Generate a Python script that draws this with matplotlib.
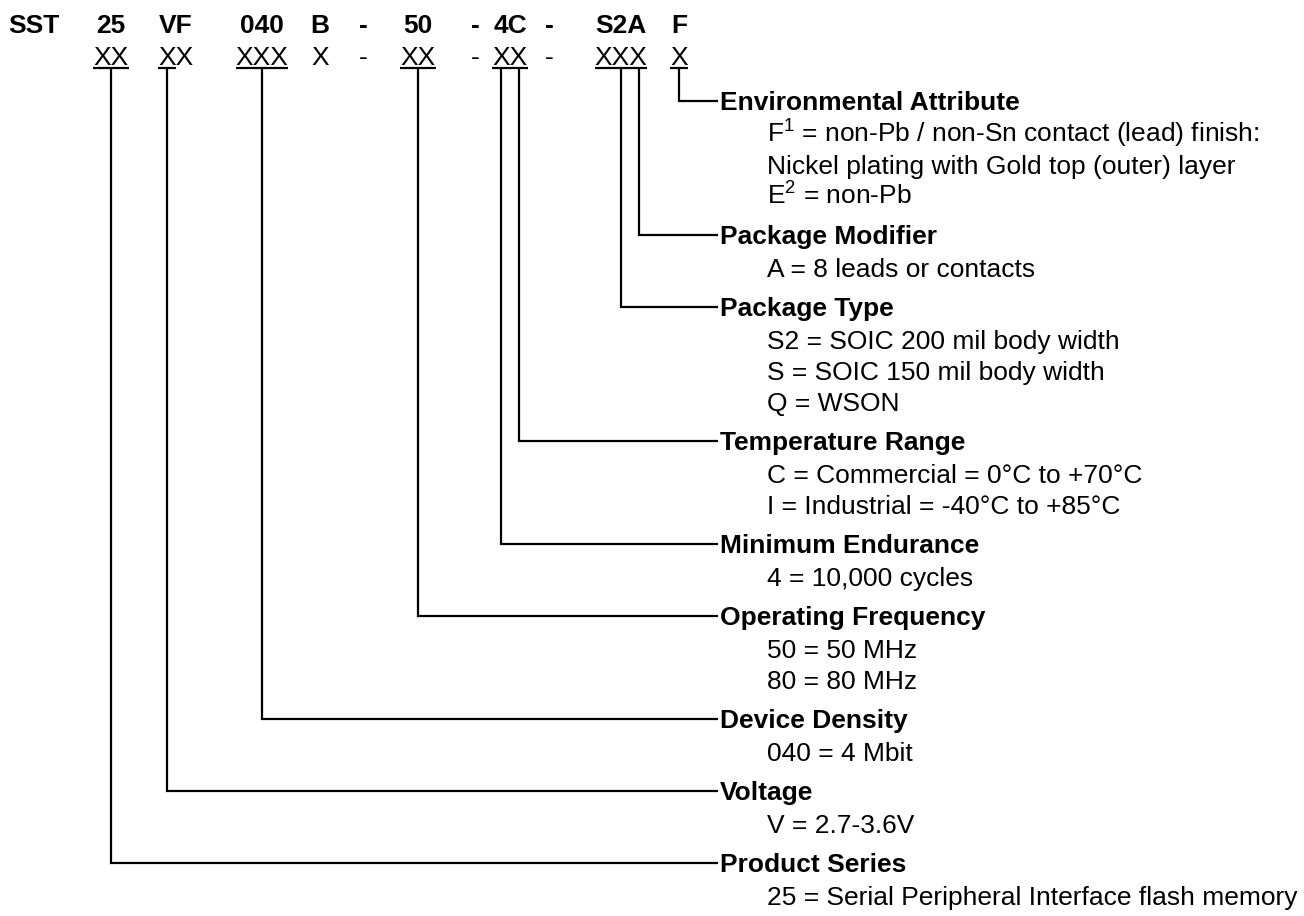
import matplotlib.pyplot as plt

plt.rcParams['font.family'] = ['Liberation Sans', 'DejaVu Sans']
plt.rcParams['mathtext.fontset'] = 'custom'
plt.rcParams['mathtext.rm'] = 'Liberation Sans'
plt.rcParams['mathtext.default'] = 'regular'

# part number row and its code row
top_tokens = ['SST', '25', 'VF', '040', 'B', '-', '50', '-', '4C', '-', 'S2A', 'F']
code_tokens = ['', 'XX', 'XX', 'XXX', 'X', '-', 'XX', '-', 'XX', '-', 'XXX', 'X']
underline_count = [0, 2, 1, 3, 0, 0, 2, 0, 2, 0, 3, 1]

# fields, top to bottom
headers = ['Environmental Attribute', 'Package Modifier', 'Package Type',
           'Temperature Range', 'Minimum Endurance', 'Operating Frequency',
           'Device Density', 'Voltage', 'Product Series']
details = [
    ['F$^1$ = non-Pb / non-Sn contact (lead) finish:',
     'Nickel plating with Gold top (outer) layer',
     'E$^2$ = non-Pb'],
    ['A = 8 leads or contacts'],
    ['S2 = SOIC 200 mil body width', 'S = SOIC 150 mil body width', 'Q = WSON'],
    ['C = Commercial = 0°C to +70°C', 'I = Industrial = -40°C to +85°C'],
    ['4 = 10,000 cycles'],
    ['50 = 50 MHz', '80 = 80 MHz'],
    ['040 = 4 Mbit'],
    ['V = 2.7-3.6V'],
    ['25 = Serial Peripheral Interface flash memory'],
]
# which code column / which X each field points at
field_col = [11, 10, 10, 8, 8, 6, 3, 2, 1]
field_pos = [0, 2, 1, 1, 0, 0.5, 1, 0, 0.5]

# layout (pixels)
col_x = [34, 111, 176, 262, 320, 363, 418, 475, 510, 549, 621, 679]
xw = 17.6
fs = 19
head_x = 720
body_x = 767
ul_y = 68

fig = plt.figure(figsize=(13.04, 9.16), dpi=100)
ax = fig.add_axes([0, 0, 1, 1])
ax.set_xlim(0, 1304)
ax.set_ylim(916, 0)
ax.axis('off')

for i, t in enumerate(top_tokens):
    ax.text(col_x[i], 33, t, ha='center', va='baseline', fontsize=fs, fontweight='bold')
for i, t in enumerate(code_tokens):
    if t:
        ax.text(col_x[i], 65, t, ha='center', va='baseline', fontsize=fs)
    n = underline_count[i]
    if n:
        left = col_x[i] - len(t) * xw / 2
        ax.plot([left, left + n * xw], [ul_y, ul_y], color='black', lw=1.6,
                solid_capstyle='butt')

y = 101
for k, h in enumerate(headers):
    c = field_col[k]
    left = col_x[c] - len(code_tokens[c]) * xw / 2
    x = left + (field_pos[k] + 0.5) * xw
    ax.plot([x, x, head_x - 2], [ul_y, y, y], color='black', lw=1.6,
            solid_joinstyle='miter', solid_capstyle='butt')
    ax.text(head_x, y + 9, h, ha='left', va='baseline', fontsize=fs, fontweight='bold')
    yy = y + 33
    for j, d in enumerate(details[k]):
        ax.text(body_x, yy + 9, d, ha='left', va='baseline', fontsize=fs)
        if j < len(details[k]) - 1:
            yy += 31
    y = yy + 39

fig.savefig('out.png', dpi=100)
